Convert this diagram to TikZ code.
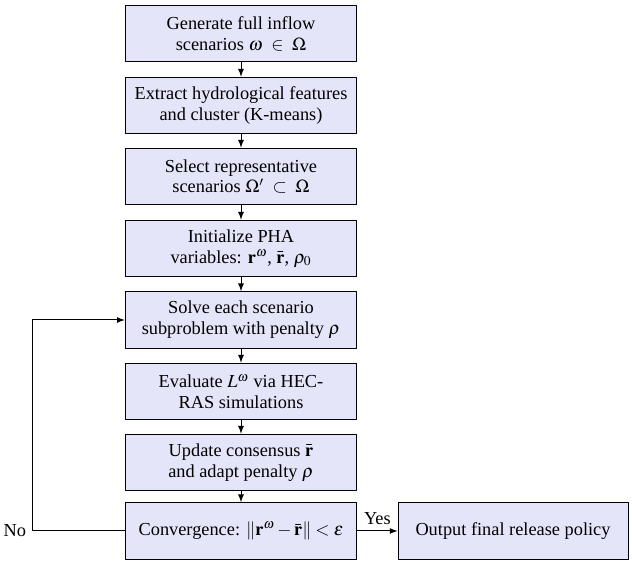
\documentclass[tikz,border=0pt]{standalone}
\usepackage{amsmath,mathptmx}
\usepackage{fontspec}
\setmainfont{Liberation Serif}
\usetikzlibrary{arrows,positioning}
\definecolor{boxfill}{rgb}{0.9,0.9,0.98}
\begin{document}
\begin{tikzpicture}[line cap=round,line join=round,>=latex,x=0.6pt,y=-0.6pt,semithick,font=\fontsize{11}{12.5}\selectfont]
  \tikzset{stepbox/.style={draw,fill=boxfill,minimum width=139pt,minimum height=34pt,align=center,inner sep=2pt}}
  \useasboundingbox (0,0) rectangle (632,562);
  \node[stepbox] (gen) at (241,33.5) {Generate full inflow\\scenarios $\omega\ \in\ \Omega$};
  \node[stepbox] (ext) at (241,105.5) {Extract hydrological features\\and cluster (K-means)};
  \node[stepbox] (sel) at (241,176.5) {Select representative\\scenarios $\Omega'\ \subset\ \Omega$};
  \node[stepbox] (ini) at (241,248.5) {Initialize PHA\\variables: $\mathbf{r}^{\omega}$, $\bar{\mathbf{r}}$, $\rho_0$};
  \node[stepbox] (sol) at (241,320) {Solve each scenario\\subproblem with penalty $\rho$};
  \node[stepbox] (eva) at (241,391.5) {Evaluate $L^{\omega}$ via HEC-\\RAS simulations};
  \node[stepbox] (upd) at (241,462.5) {Update consensus $\bar{\mathbf{r}}$\\and adapt penalty $\rho$};
  \node[stepbox] (con) at (241,531) {Convergence: $\|\mathbf{r}^{\omega}-\bar{\mathbf{r}}\|<\epsilon$};
  \node[stepbox,minimum width=138pt] (out) at (513,531) {Output final release policy};
  \coordinate (lp) at (32,531);
  \node[left] (no) at (lp) {No};
  \draw[->] (gen) -- (ext);
  \draw[->] (ext) -- (sel);
  \draw[->] (sel) -- (ini);
  \draw[->] (ini) -- (sol);
  \draw[->] (sol) -- (eva);
  \draw[->] (eva) -- (upd);
  \draw[->] (upd) -- (con);
  \draw[->] (con) -- node[above] {Yes} (out);
  \draw[->] (con) -- (lp) |- (sol);
\end{tikzpicture}
\end{document}
